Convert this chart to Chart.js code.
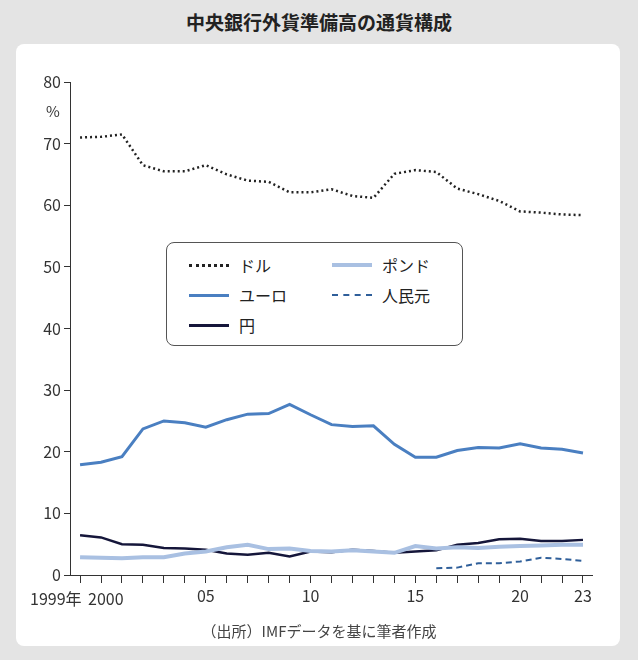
<!DOCTYPE html>
<html><head><meta charset="utf-8">
<script src="https://cdn.jsdelivr.net/npm/chart.js@4"></script>
<style>
body{margin:0;width:638px;height:660px;background:#e4e4e4;font-family:"Noto Sans CJK JP",sans-serif;position:relative;overflow:hidden}
#title{position:absolute;top:8px;left:0;width:638px;text-align:center;font-size:19px;font-weight:bold;color:#222}
#card{position:absolute;left:16px;top:44px;width:604px;height:602px;background:#fff;border-radius:8px}
#c{position:absolute;left:0;top:0}
#src{position:absolute;top:620px;left:0;width:638px;text-align:center;font-size:15px;color:#444}
#pct{position:absolute;left:46px;top:100px;font-size:15px;color:#333}
.xl{position:absolute;top:588px;font-size:16px;color:#333;line-height:20px}
#legend{position:absolute;left:166px;top:242px;width:295px;height:102px;border:1px solid #555;border-radius:8px;background:#fff;font-size:16px;color:#222}
.li{position:absolute;display:flex;align-items:center}
.li span.s{display:inline-block;width:40px;margin-right:10px}
</style></head><body>
<div id="title">中央銀行外貨準備高の通貨構成</div>
<div id="card"></div>
<canvas id="c" width="638" height="660"></canvas>
<div id="pct">%</div>
<div class="xl" style="left:30px">1999年</div>
<div class="xl" style="left:88px">2000</div>
<div id="legend">
 <div class="li" style="left:22px;top:10px"><span class="s" style="border-top:3px dotted #222"></span>ドル</div>
 <div class="li" style="left:22px;top:40px"><span class="s" style="border-top:3px solid #4a7fc1"></span>ユーロ</div>
 <div class="li" style="left:22px;top:70px"><span class="s" style="border-top:3px solid #15163a"></span>円</div>
 <div class="li" style="left:165px;top:10px"><span class="s" style="border-top:4px solid #a9c0e2"></span>ポンド</div>
 <div class="li" style="left:165px;top:40px"><span class="s" style="border-top:2px dashed #2f5f9a"></span>人民元</div>
</div>
<div id="src">（出所）IMFデータを基に筆者作成</div>
<script>
const years = [1999,2000,2001,2002,2003,2004,2005,2006,2007,2008,2009,2010,2011,2012,2013,2014,2015,2016,2017,2018,2019,2020,2021,2022,2023];
const dollar = [71,71.1,71.5,66.5,65.5,65.5,66.5,65,64,63.8,62.1,62.1,62.6,61.5,61.2,65.1,65.7,65.4,62.7,61.8,60.7,59,58.8,58.5,58.4];
const euro = [17.9,18.3,19.2,23.7,25,24.7,24,25.2,26.1,26.2,27.7,26,24.4,24.1,24.2,21.2,19.1,19.1,20.2,20.7,20.6,21.3,20.6,20.4,19.8];
const yen = [6.45,6.1,5.0,4.9,4.4,4.3,4.1,3.5,3.3,3.6,3.0,3.8,3.7,4.1,3.9,3.6,3.8,4.0,4.9,5.2,5.8,5.9,5.5,5.5,5.7];
const pound = [2.9,2.8,2.7,2.9,2.9,3.5,3.8,4.5,4.9,4.2,4.3,3.9,3.8,4.0,3.8,3.6,4.7,4.3,4.5,4.4,4.6,4.7,4.8,4.9,4.9];
const rmbYears = [2016,2017,2018,2019,2020,2021,2022,2023];
const rmb = [1.1,1.2,1.9,1.9,2.2,2.8,2.6,2.3];
// 1999年 and 2000 are placed as HTML labels so they do not overlap
const xLabels = {2005:'05',2010:'10',2015:'15',2020:'20',2023:'23'};

const pts = (xs, ys) => xs.map((x, i) => ({x, y: ys[i]}));
const line = (data, color, width, dash) => ({data, borderColor: color, borderWidth: width, borderDash: dash || [], pointRadius: 0, tension: 0, fill: false});

new Chart(document.getElementById('c'), {
  type: 'line',
  data: {datasets: [
    line(pts(years, pound), '#a9c0e2', 4),
    line(pts(years, euro), '#4a7fc1', 3),
    line(pts(years, dollar), '#222', 2.5, [2, 3]),
    line(pts(rmbYears, rmb), '#2f5f9a', 2, [6, 4]),
    line(pts(years, yen), '#15163a', 2.5)
  ]},
  options: {
    responsive: false, animation: false,
    layout: {padding: {left: 20, right: 46, top: 82, bottom: 55}},
    plugins: {legend: {display: false}, tooltip: {enabled: false}},
    scales: {
      x: {
        type: 'linear', min: 1998.52, max: 2023.43,
        afterBuildTicks: s => { s.ticks = years.map(v => ({value: v})); },
        afterFit: s => { s.height = 30; },
        grid: {drawOnChartArea: false, tickLength: 8, color: '#333'},
        border: {color: '#333'},
        ticks: {autoSkip: false, maxRotation: 0, color: '#333', font: {size: 16, family: 'Noto Sans CJK JP'},
          callback: v => xLabels[v] || ''}
      },
      y: {
        min: 0, max: 80,
        afterFit: s => { s.width = 50; },
        grid: {drawOnChartArea: false, tickLength: 6, color: '#333'},
        border: {color: '#333'},
        ticks: {stepSize: 10, color: '#333', font: {size: 16, family: 'Noto Sans CJK JP'}}
      }
    }
  }
});
</script>
</body></html>
